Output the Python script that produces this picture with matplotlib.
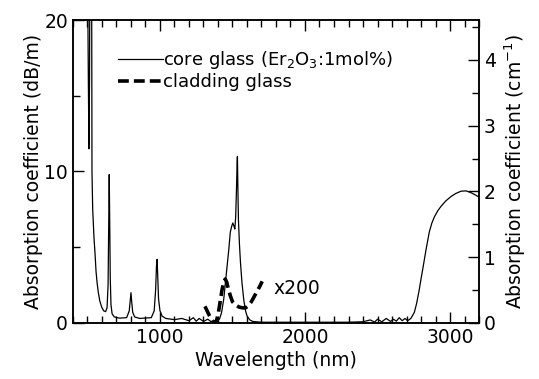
import matplotlib
matplotlib.use("Agg")
import matplotlib.pyplot as plt
from matplotlib.ticker import MultipleLocator

# ---------------- data ----------------
core_wl = [400, 450, 490, 500, 506, 510, 514, 518, 524, 528, 531, 536, 545, 552,
           559, 567, 575, 585, 598, 612, 625, 635, 642, 647, 650, 653, 657, 662,
           670, 685, 720, 770, 788, 795, 800, 805, 812, 825, 860, 940, 960, 970,
           976, 980, 984, 990, 1000, 1015, 1040, 1100, 1150, 1200, 1230, 1250,
           1270, 1300, 1330, 1350, 1380, 1410, 1425, 1440, 1458, 1474, 1485,
           1495, 1502, 1510, 1516, 1522, 1528, 1532, 1534, 1537, 1541, 1548,
           1555, 1565, 1578, 1590, 1601, 1620, 1640, 1700, 1800, 1900, 2000,
           2100, 2200, 2300, 2400, 2450, 2480, 2500, 2530, 2560, 2590, 2610,
           2630, 2650, 2670, 2690, 2708, 2730, 2754, 2770, 2788, 2800, 2811,
           2834, 2857, 2875, 2892, 2915, 2938, 2970, 3007, 3040, 3076, 3111,
           3145, 3175, 3210]
core_ab = [60, 45, 30, 24, 16, 11.5, 16, 28, 40, 28, 10, 7.5, 5.6, 4.6,
           3.4, 2.6, 2.0, 1.45, 1.05, 0.8, 0.75, 1.0, 2.5, 7.0, 9.8, 7.0, 3.0, 1.2,
           0.6, 0.4, 0.32, 0.35, 0.8, 1.5, 2.0, 1.4, 0.7, 0.4, 0.3, 0.35, 0.8, 2.2,
           3.8, 4.2, 3.2, 1.6, 0.8, 0.45, 0.3, 0.22, 0.3, 0.15, 0.35, 0.12,
           0.3, 0.1, 0.25, 0.1, 0.1, 0.25, 0.7, 1.6, 3.3, 4.8, 6.0,
           6.4, 6.6, 6.4, 6.2, 7.0, 9.0, 10.6, 11.0, 9.0, 6.8, 5.2,
           4.0, 2.7, 1.5, 0.8, 0.45, 0.2, 0.1, 0.05, 0.05, 0.05, 0.05,
           0.05, 0.05, 0.05, 0.08, 0.2, 0.06, 0.25, 0.08, 0.3, 0.1, 0.25,
           0.12, 0.35, 0.15, 0.3, 0.15, 0.3, 0.7, 1.3, 2.2, 2.9, 3.5,
           4.8, 6.0, 6.6, 7.0, 7.4, 7.7, 8.05, 8.35, 8.55, 8.7, 8.72,
           8.6, 8.45, 8.25]

clad_wl = [1310, 1325, 1340, 1355, 1370, 1380, 1390, 1403, 1415, 1428, 1440,
           1450, 1460, 1470, 1485, 1500, 1520, 1545, 1570, 1590, 1610, 1630,
           1650, 1670, 1690, 1705]
clad_ab = [1.1, 0.8, 0.5, 0.25, 0.05, 0.0, 0.15, 0.7, 1.4, 2.2, 2.7,
           2.9, 2.7, 2.3, 1.8, 1.4, 1.2, 1.05, 1.0, 1.0, 1.15, 1.4,
           1.75, 2.1, 2.45, 2.75]

core_label = "core glass (Er$_2$O$_3$:1mol%)"
clad_label = "cladding glass"
x_ticks = [1000, 2000, 3000]
left_ticks = [0, 10, 20]
right_ticks = [0, 1, 2, 3, 4]
dbm_per_cm1 = 434.3 / 100.0  # dB/m per cm^-1 (scaled)

# ---------------- figure ----------------
plt.rcParams['font.family'] = ['DejaVu Sans']
plt.rcParams['mathtext.fontset'] = 'dejavusans'
fs = 13.5
fs_leg = 13

fig = plt.figure(figsize=(5.39, 3.79), dpi=100)
ax = fig.add_axes([0.1354, 0.1478, 0.8887 - 0.1354, 0.9472 - 0.1478])

core_line, = ax.plot(core_wl, core_ab, color='black', lw=0.9)
clad_line, = ax.plot(clad_wl, clad_ab, color='black', lw=2.6, dashes=(3, 1.4))

ax.set_xlim(400, 3200)
ax.set_ylim(0, 20)
ax.set_xticks(x_ticks)
ax.set_yticks(left_ticks)
ax.xaxis.set_minor_locator(MultipleLocator(100))
ax.yaxis.set_minor_locator(MultipleLocator(5))
ax.tick_params(which='both', direction='in', top=True, right=False, labelsize=fs, width=1.0)
ax.tick_params(which='major', length=8)
ax.tick_params(which='minor', length=5)
ax.set_xlabel("Wavelength (nm)", fontsize=fs, labelpad=3)
ax.set_ylabel("Absorption coefficient (dB/m)", fontsize=fs, labelpad=1)
for s in ax.spines.values():
    s.set_linewidth(1.1)

ax2 = ax.twinx()
ax2.set_ylim(0, 20 / dbm_per_cm1)
ax2.set_yticks(right_ticks)
ax2.yaxis.set_minor_locator(MultipleLocator(0.5))
ax2.tick_params(which='both', direction='in', labelsize=fs, width=1.0)
ax2.tick_params(which='major', length=8)
ax2.tick_params(which='minor', length=5)
ax2.set_ylabel("Absorption coefficient (cm$^{-1}$)", fontsize=fs, labelpad=5)
for s in ax2.spines.values():
    s.set_linewidth(1.1)

ax.text(1780, 2.3, "x200", fontsize=fs, va='center', ha='left')

common = dict(frameon=False, fontsize=fs_leg, handlelength=2.5, handletextpad=0.0,
              borderaxespad=0.0, borderpad=0.0, loc='center left')
leg1 = ax.legend([core_line], [core_label], bbox_to_anchor=(0.111, 0.868), **common)
ax.add_artist(leg1)
leg2 = ax.legend([clad_line], [clad_label], bbox_to_anchor=(0.111, 0.794), **common)

fig.savefig("out.png", dpi=100)
